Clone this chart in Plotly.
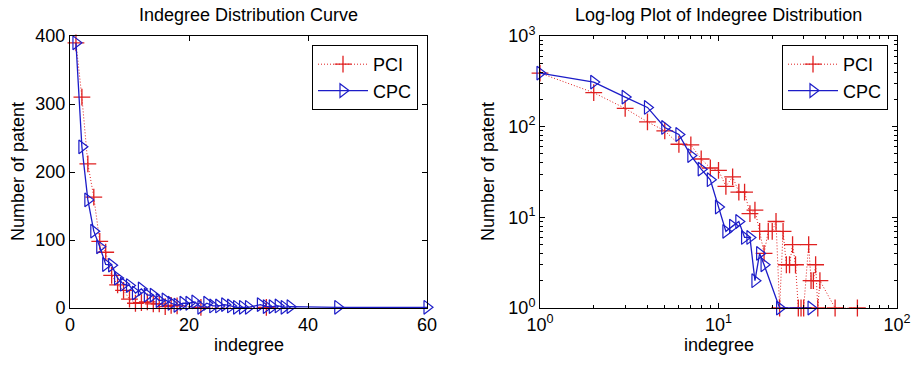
import plotly.graph_objects as go

# Series (indegree -> number of patents)
degree_a = [1, 2, 3, 4, 5, 6, 7, 8, 9, 10, 11, 12, 13, 14, 15, 16, 17, 18, 22, 33]
count_a = [390, 310, 212, 163, 98, 82, 48, 34, 26, 13, 7, 8, 9, 6, 6, 2, 4, 3, 1, 1]

degree_b = [1, 2, 3, 4, 5, 6, 7, 8, 9, 10, 11, 12, 13, 14, 15, 16, 17, 18, 19, 20,
            21, 22, 23, 24, 25, 26, 27, 28, 29, 30, 32, 33, 34, 35, 36, 37, 45, 60]
count_b = [390, 237, 159, 113, 90, 64, 63, 44, 35, 33, 22, 28, 19, 19, 11, 12, 7, 4, 7, 7,
           9, 1, 7, 3, 3, 5, 3, 1, 1, 1, 5, 2, 2, 3, 1, 2, 1, 1]

lin_xticks = [0, 20, 40, 60]
lin_yticks = [0, 100, 200, 300, 400]
log_xticks = [1, 10, 100]
log_xticktext = ["10<sup>0</sup>", "10<sup>1</sup>", "10<sup>2</sup>"]
log_yticks = [1, 10, 100, 1000]
log_yticktext = ["10<sup>0</sup>", "10<sup>1</sup>", "10<sup>2</sup>", "10<sup>3</sup>"]

RED = "#e02020"
BLUE = "#1c1cc8"
FONT = "Arial, Liberation Sans, Helvetica, sans-serif"
FS = 18

fig = go.Figure()

def pci(x, y, xa, ya, leg):
    return go.Scatter(x=x, y=y, xaxis=xa, yaxis=ya, name="PCI", legend=leg,
                      mode="lines+markers", cliponaxis=False,
                      line=dict(color=RED, width=1, dash="1px,2px"),
                      marker=dict(symbol="cross-thin-open", size=12,
                                  line=dict(color=RED, width=1.3), color=RED))

def cpc(x, y, xa, ya, leg):
    return go.Scatter(x=x, y=y, xaxis=xa, yaxis=ya, name="CPC", legend=leg,
                      mode="lines+markers", cliponaxis=False,
                      line=dict(color=BLUE, width=1.3),
                      marker=dict(symbol="triangle-right-open", size=12,
                                  line=dict(color=BLUE, width=1.2), color=BLUE))

fig.add_trace(pci(degree_a, count_a, "x", "y", "legend"))
fig.add_trace(cpc(degree_b, count_b, "x", "y", "legend"))
fig.add_trace(pci(degree_b, count_b, "x2", "y2", "legend2"))
fig.add_trace(cpc(degree_a, count_a, "x2", "y2", "legend2"))

W, H = 915, 367

def px(xp):
    return xp / W

def py(yp):
    return 1 - yp / H

L1, R1, L2, R2 = 70, 427, 540, 897
TOP, BOT = 36, 308

axis_common = dict(showline=True, linecolor="black", linewidth=1, mirror="allticks",
                   ticks="inside", ticklen=5, tickcolor="black", showgrid=False,
                   zeroline=False, automargin=False,
                   tickfont=dict(size=FS, color="black", family=FONT))

def minor(n):
    return dict(ticks="inside", ticklen=3, tickcolor="black",
                tickvals=[m * 10 ** e for e in range(n) for m in range(2, 10)])

def ann(text, xpx, ypx, angle=0):
    return dict(text=text, x=px(xpx), y=py(ypx), xref="paper", yref="paper",
                xanchor="center", yanchor="middle", showarrow=False, textangle=angle,
                font=dict(size=FS, family=FONT, color="black"))

fig.update_layout(
    width=W, height=H, paper_bgcolor="white", plot_bgcolor="white",
    margin=dict(l=0, r=0, t=0, b=0),
    font=dict(family=FONT, color="black"),
    xaxis=dict(domain=[px(L1), px(R1)], range=[0, 60], tickvals=lin_xticks,
               anchor="y", **axis_common),
    yaxis=dict(domain=[py(BOT), py(TOP)], range=[0, 400], tickvals=lin_yticks,
               anchor="x", **axis_common),
    xaxis2=dict(domain=[px(L2), px(R2)], type="log", range=[0, 2],
                tickvals=log_xticks, ticktext=log_xticktext, anchor="y2",
                minor=minor(2), **axis_common),
    yaxis2=dict(domain=[py(BOT), py(TOP)], type="log", range=[0, 3],
                tickvals=log_yticks, ticktext=log_yticktext, anchor="x2",
                minor=minor(3), **axis_common),
    legend=dict(x=px(418), xanchor="right", y=py(45), yanchor="top",
                bgcolor="white", bordercolor="black", borderwidth=1,
                font=dict(size=FS, color="black"), itemwidth=50, tracegroupgap=0),
    legend2=dict(x=px(888), xanchor="right", y=py(45), yanchor="top",
                 bgcolor="white", bordercolor="black", borderwidth=1,
                 font=dict(size=FS, color="black"), itemwidth=50, tracegroupgap=0),
    annotations=[
        ann("Indegree Distribution Curve", (L1 + R1) / 2, 15),
        ann("Log-log Plot of Indegree Distribution", (L2 + R2) / 2, 15),
        ann("indegree", (L1 + R1) / 2, 345),
        ann("indegree", (L2 + R2) / 2, 345),
        ann("Number of patent", 18, (TOP + BOT) / 2, -90),
        ann("Number of patent", 488, (TOP + BOT) / 2, -90),
    ],
)

fig.write_html("out.html", config={"displayModeBar": False},
               post_script="document.body.style.margin='0';")
